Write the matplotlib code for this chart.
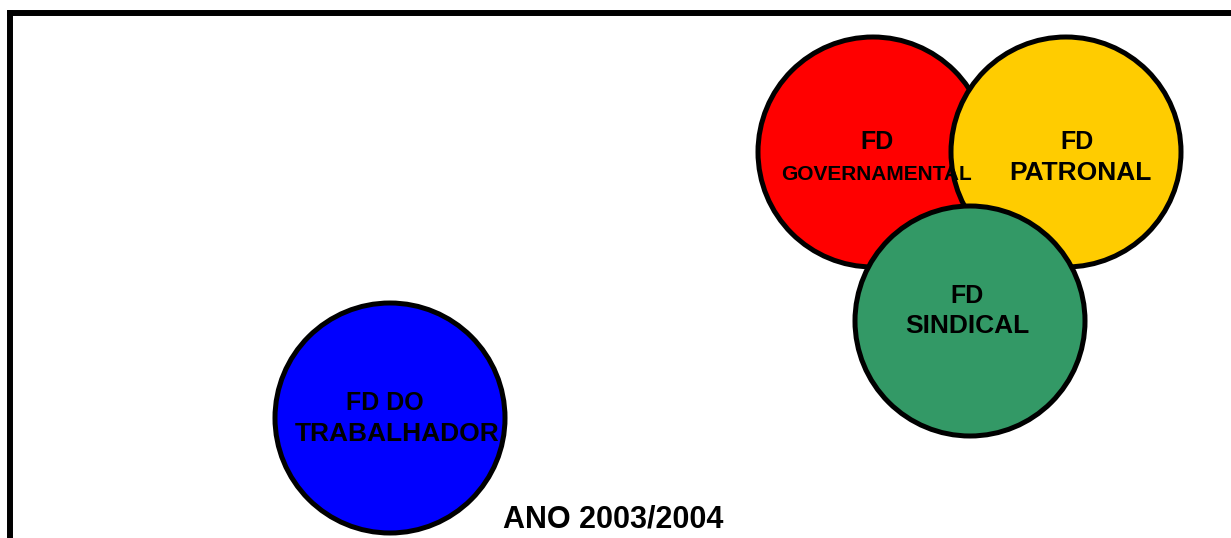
import matplotlib
matplotlib.use("Agg")
import matplotlib.pyplot as plt
from matplotlib.patches import Circle

# ---- data (bubble centres / radii in chart pixel units) ----
groups = ["FD GOVERNAMENTAL", "FD PATRONAL", "FD SINDICAL", "FD DO TRABALHADOR"]
bubble_x = [873, 1066, 970, 390]
bubble_y = [152, 152, 321, 418]
bubble_r = [115, 115, 115, 115]
colors = ["#FF0000", "#FFCC00", "#339966", "#0000FF"]
line1 = ["FD", "FD", "FD", "FD DO"]
line2 = ["GOVERNAMENTAL", "PATRONAL", "SINDICAL", "TRABALHADOR"]
title = "ANO 2003/2004"

# text layout
l1_xy = [(877, 142), (1077, 142), (967, 296), (385, 403)]
l2_xy = [(877, 175), (1080, 173), (967, 326), (397, 434)]
l1_size = [18, 18, 18, 18]
l2_size = [15, 19, 19, 19]

W, H, DPI = 1231, 538, 100
fig = plt.figure(figsize=(W / DPI, H / DPI), dpi=DPI)
fig.patch.set_facecolor("white")

left_px, top_px = 10, 13
ax_w = 1.6
ax_bottom = -0.6
ax_top = (H - top_px) / H
ax = fig.add_axes([left_px / W, ax_bottom, ax_w, ax_top - ax_bottom])
ax_w_px = ax_w * W
ax_h_px = (ax_top - ax_bottom) * H
ax.set_xlim(left_px, left_px + ax_w_px)
ax.set_ylim(top_px + ax_h_px, top_px)
ax.set_xticks([])
ax.set_yticks([])
for s in ["right", "bottom"]:
    ax.spines[s].set_visible(False)
for s in ["left", "top"]:
    ax.spines[s].set_linewidth(4.3)
    ax.spines[s].set_color("black")
    ax.spines[s].set_capstyle("projecting")

for x, y, r, c in zip(bubble_x, bubble_y, bubble_r, colors):
    ax.add_patch(Circle((x, y), r, facecolor=c, edgecolor="black", linewidth=3.6, zorder=2))

font = dict(family=["Liberation Sans", "DejaVu Sans"], fontweight="bold", color="black",
            ha="center", va="center", zorder=5)
for (x1, y1), (x2, y2), t1, t2, s1, s2 in zip(l1_xy, l2_xy, line1, line2, l1_size, l2_size):
    ax.text(x1, y1, t1, fontsize=s1, **font)
    ax.text(x2, y2, t2, fontsize=s2, **font)

ax.text(613, 520, title, fontsize=22, **font)

fig.savefig("out.png", dpi=DPI)
